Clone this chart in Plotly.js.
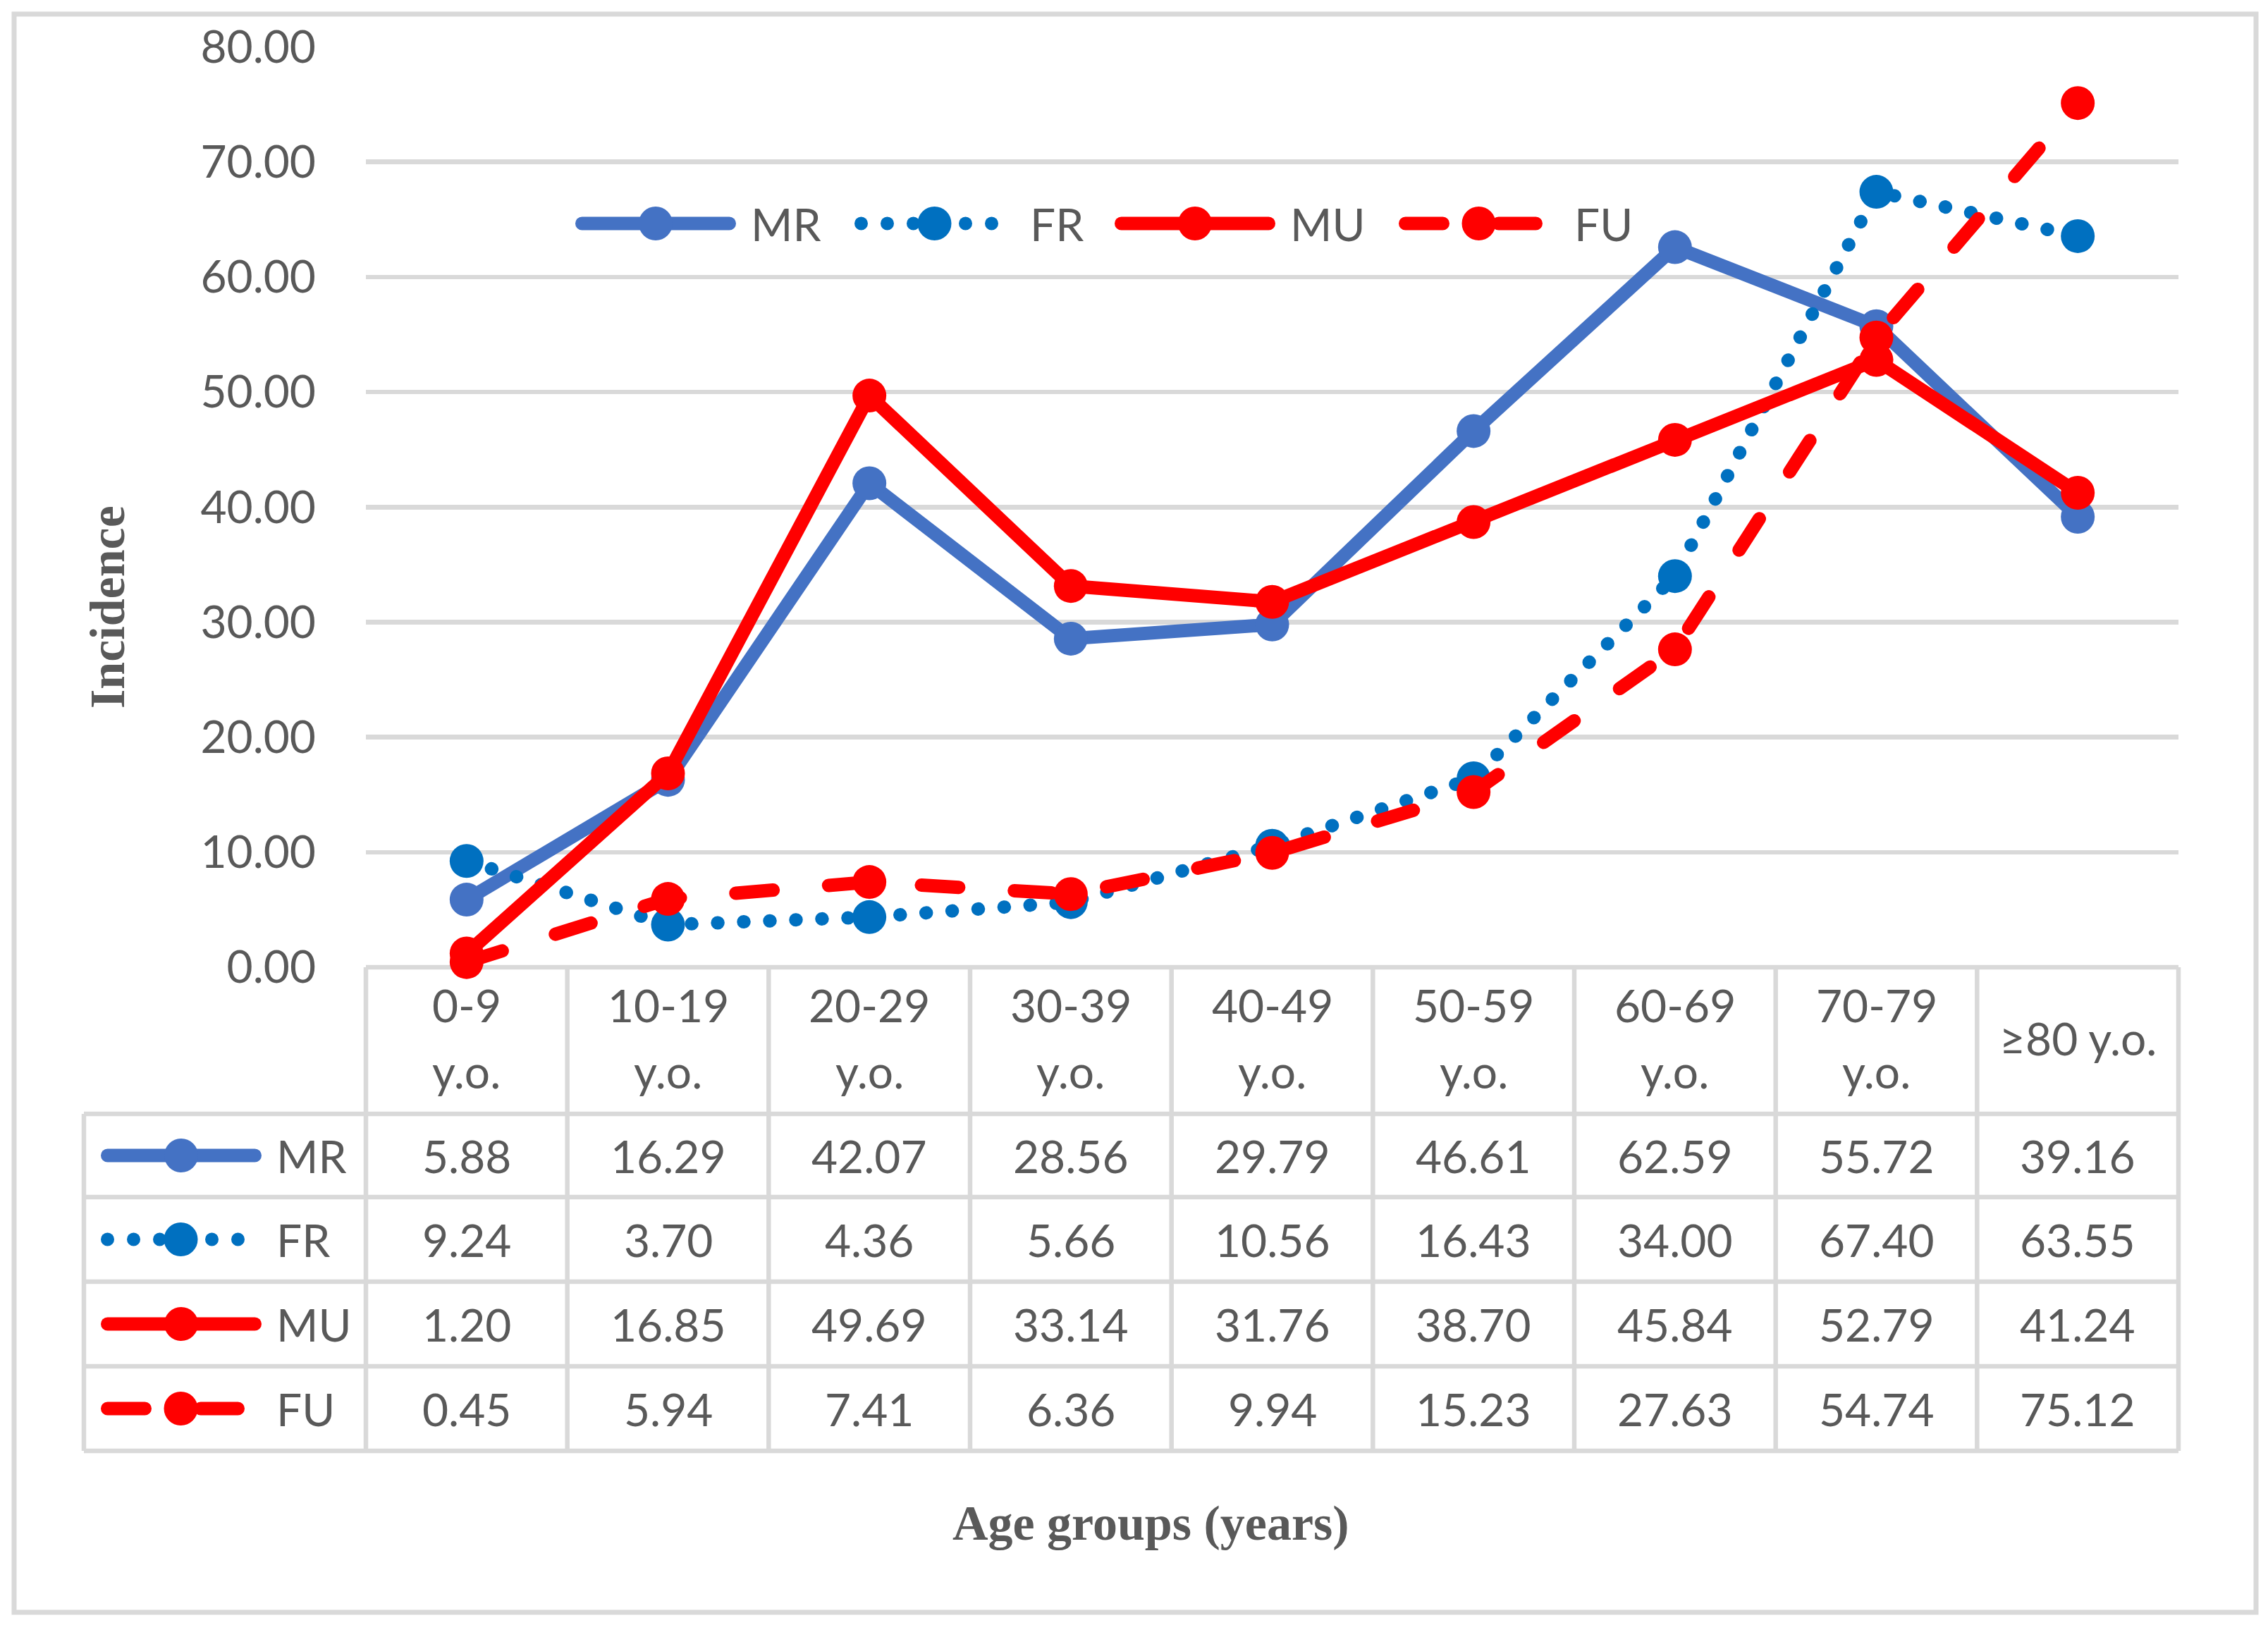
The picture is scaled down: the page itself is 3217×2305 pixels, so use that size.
<!DOCTYPE html>
<html>
<head>
<meta charset="utf-8">
<script src="https://cdn.plot.ly/plotly-3.0.1.min.js"></script>
<style>html,body{margin:0;padding:0;background:#fff;}#chart{width:3217px;height:2305px;}</style>
</head>
<body>
<div id="chart"></div>
<script>
// ---------------- DATA ----------------
const categories = ['0-9<br>y.o.', '10-19<br>y.o.', '20-29<br>y.o.', '30-39<br>y.o.', '40-49<br>y.o.',
                    '50-59<br>y.o.', '60-69<br>y.o.', '70-79<br>y.o.', '≥80 y.o.'];
const seriesNames = ['MR', 'FR', 'MU', 'FU'];
const MR = [5.88, 16.29, 42.07, 28.56, 29.79, 46.61, 62.59, 55.72, 39.16];
const FR = [9.24, 3.70, 4.36, 5.66, 10.56, 16.43, 34.00, 67.40, 63.55];
const MU = [1.20, 16.85, 49.69, 33.14, 31.76, 38.70, 45.84, 52.79, 41.24];
const FU = [0.45, 5.94, 7.41, 6.36, 9.94, 15.23, 27.63, 54.74, 75.12];
const seriesValues = {MR: MR, FR: FR, MU: MU, FU: FU};
const yAxisTitle = 'Incidence';
const xAxisTitle = 'Age groups (years)';

// ---------------- STYLE / LAYOUT ----------------
const W = 3217, H = 2305;
const px = x => x / W;
const py = y => 1 - y / H;
const TEXT = '#595959';
const GRID = '#d9d9d9';
const FONT = 'Lato, "Open Sans", sans-serif';
const SERIF = '"Liberation Serif", "DejaVu Serif", serif';
const LW = 19, MS = 48;
const styles = {
  MR: {color: '#4472C4', dash: 'solid'},
  FR: {color: '#0070C0', dash: '0.5px,36.5px', dots: true},
  MU: {color: '#FF0000', dash: 'solid'},
  FU: {color: '#FF0000', dash: '53px,79px'}
};
// key geometry relative to visible start of key
const keyGeom = {
  MR: {s: 9.5, e: 218.5, m: 114},
  FR: {s: 9.5, e: 194.5, m: 113.5},
  MU: {s: 9.5, e: 218.5, m: 114},
  FU: {s: 9.5, e: 195.5, m: 113.5}
};
const DOT_STEP = 37;

const plotL = 519, plotR = 3090, plotT = 66.5, plotB = 1372;
const colW = (plotR - plotL) / categories.length;
const headerB = 1580;
const rowLines = [1580, 1698, 1818, 1938, 2058];
const tableL = 119;

const traces = seriesNames.map(n => ({
  type: 'scatter', mode: 'lines+markers', name: n,
  x: categories.map((c, i) => i), y: seriesValues[n],
  line: {color: styles[n].color, width: LW, dash: styles[n].dash},
  marker: {color: styles[n].color, size: MS, symbol: 'circle', line: {width: 0}},
  cliponaxis: false, hoverinfo: 'skip', showlegend: false
}));

const shapes = [];
const annotations = [];
const keyLineIdx = [];
const gl = {color: GRID, width: 6.5};

// outer frame
shapes.push({type: 'rect', xref: 'paper', yref: 'paper', x0: px(20), x1: px(3200), y0: py(2287), y1: py(20),
             line: {color: GRID, width: 7}, fillcolor: 'rgba(0,0,0,0)', layer: 'below'});
// table lines
shapes.push({type: 'line', xref: 'paper', yref: 'paper', x0: px(plotL), x1: px(plotR), y0: py(plotB), y1: py(plotB), line: gl, layer: 'below'});
rowLines.forEach(yy => shapes.push({type: 'line', xref: 'paper', yref: 'paper', x0: px(tableL), x1: px(plotR), y0: py(yy), y1: py(yy), line: gl, layer: 'below'}));
for (let k = 0; k <= categories.length; k++) {
  const xx = plotL + k * colW;
  shapes.push({type: 'line', xref: 'paper', yref: 'paper', x0: px(xx), x1: px(xx), y0: py(plotB), y1: py(rowLines[rowLines.length - 1]), line: gl, layer: 'below'});
}
shapes.push({type: 'line', xref: 'paper', yref: 'paper', x0: px(tableL), x1: px(tableL), y0: py(headerB), y1: py(rowLines[rowLines.length - 1]), line: gl, layer: 'below'});

function circle(cx, cy, r, color) {
  return {type: 'circle', xref: 'paper', yref: 'paper', x0: px(cx - r), x1: px(cx + r), y0: py(cy + r), y1: py(cy - r),
          fillcolor: color, line: {width: 0}, layer: 'above'};
}
function addKey(n, v, yc) {
  const g = keyGeom[n], st = styles[n];
  if (st.dots) {
    for (let xx = v + g.s; xx <= v + g.e + 0.01; xx += DOT_STEP) shapes.push(circle(xx, yc, LW / 2, st.color));
  } else {
    keyLineIdx.push(shapes.length);
    shapes.push({type: 'line', xref: 'paper', yref: 'paper', x0: px(v + g.s), x1: px(v + g.e), y0: py(yc), y1: py(yc),
                 line: {color: st.color, width: LW, dash: st.dash}, layer: 'above'});
  }
  shapes.push(circle(v + g.m, yc, MS / 2, st.color));
  annotations.push({xref: 'paper', yref: 'paper', x: px(v + 247), y: py(yc), xanchor: 'left', yanchor: 'middle',
                    text: n, showarrow: false, font: {family: FONT, size: 64, color: TEXT}});
}
// top legend
const legendStarts = [816, 1212, 1581, 1984];
seriesNames.forEach((n, i) => addKey(n, legendStarts[i], 317));
// table rows
seriesNames.forEach((n, r) => {
  const yc = (rowLines[r] + rowLines[r + 1]) / 2;
  addKey(n, 143, yc);
  seriesValues[n].forEach((val, i) => {
    annotations.push({xref: 'x', yref: 'paper', x: i, y: py(yc), xanchor: 'center', yanchor: 'middle',
                      text: val.toFixed(2), showarrow: false, font: {family: FONT, size: 64, color: TEXT}});
  });
});
// header labels
categories.forEach((c, i) => {
  const lines = c.split('<br>');
  const mid = (plotB + headerB) / 2 - 4;
  const step = 94;
  lines.forEach((t, j) => {
    const yc = mid + (j - (lines.length - 1) / 2) * step;
    annotations.push({xref: 'x', yref: 'paper', x: i, y: py(yc), xanchor: 'center', yanchor: 'middle',
                      text: t, showarrow: false, font: {family: FONT, size: 64, color: TEXT}});
  });
});
// axis titles
annotations.push({xref: 'paper', yref: 'paper', x: px(152), y: py(861), xanchor: 'center', yanchor: 'middle', textangle: -90,
                  text: yAxisTitle, showarrow: false, font: {family: SERIF, size: 70, color: TEXT, weight: 'bold'}});
annotations.push({xref: 'paper', yref: 'paper', x: px(1632), y: py(2160), xanchor: 'center', yanchor: 'middle',
                  text: xAxisTitle, showarrow: false, font: {family: SERIF, size: 70, color: TEXT, weight: 'bold'}});

const layout = {
  width: W, height: H,
  margin: {l: 0, r: 0, t: 0, b: 0, pad: 0},
  paper_bgcolor: '#ffffff', plot_bgcolor: '#ffffff',
  showlegend: false,
  xaxis: {domain: [px(plotL), px(plotR)], range: [-0.5, categories.length - 0.5], showticklabels: false,
          showgrid: false, zeroline: false, showline: false, ticks: '', fixedrange: true},
  yaxis: {domain: [py(plotB), py(plotT)], range: [0, 80], dtick: 10, tick0: 0, tickformat: '.2f',
          showgrid: true, gridcolor: GRID, gridwidth: 6.5, zeroline: false, showline: false, ticks: '',
          ticklabelstandoff: 70, tickfont: {family: FONT, size: 64, color: TEXT}, fixedrange: true},
  shapes: shapes,
  annotations: annotations
};

Plotly.newPlot('chart', traces, layout, {staticPlot: true, displayModeBar: false}).then(() => {
  document.querySelectorAll('.scatterlayer .js-line').forEach(p => {
    p.style.strokeLinecap = 'round';
    p.style.strokeLinejoin = 'round';
  });
  document.querySelectorAll('.shapelayer path').forEach(p => {
    const idx = +p.getAttribute('data-index');
    if (keyLineIdx.indexOf(idx) >= 0) {
      p.style.strokeLinecap = 'round';
    }
  });
});
</script>
</body>
</html>
